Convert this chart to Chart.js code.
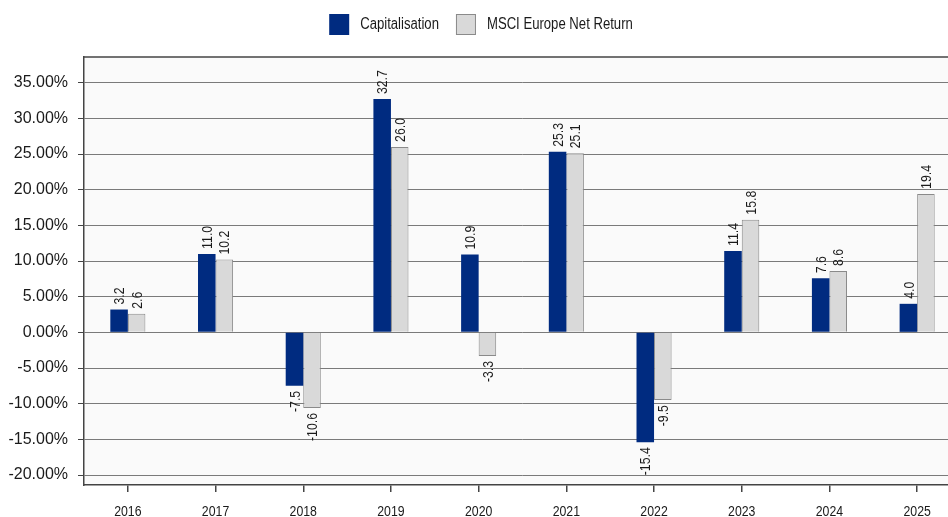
<!DOCTYPE html>
<html>
<head>
<meta charset="utf-8">
<script src="https://cdn.jsdelivr.net/npm/chart.js@4/dist/chart.umd.min.js"></script>
<style>
  html, body { margin: 0; padding: 0; background: #ffffff; overflow: hidden; }
  #wrap { width: 948px; height: 517px; overflow: hidden; position: relative; }
  canvas { display: block; }
</style>
</head>
<body>
<div id="wrap"><canvas id="c" width="961" height="517"></canvas></div>
<script>
const categories = ['2016', '2017', '2018', '2019', '2020', '2021', '2022', '2023', '2024', '2025'];
const seriesNames = ['Capitalisation', 'MSCI Europe Net Return'];
const capitalisation = [3.2, 11.0, -7.5, 32.7, 10.9, 25.3, -15.4, 11.4, 7.6, 4.0];
const msciEurope = [2.6, 10.2, -10.6, 26.0, -3.3, 25.1, -9.5, 15.8, 8.6, 19.4];
const yTickValues = [-20, -15, -10, -5, 0, 5, 10, 15, 20, 25, 30, 35];

const REG = "'Liberation Sans', Arial, sans-serif";
const SQUEEZE = 0.82;          // narrow (Arial Narrow–like) look
const BLUE = '#002b80';
const GREY = '#d9d9d9';
const GREY_BORDER = '#8a8a8a';
const TEXT = '#1a1a1a';

function narrowText(ctx, txt, x, y, align, baseline, rot) {
  ctx.save();
  ctx.translate(x, y);
  if (rot) ctx.rotate(rot);
  ctx.scale(SQUEEZE, 1);
  ctx.textAlign = align;
  ctx.textBaseline = baseline;
  ctx.fillText(txt, 0, 0);
  ctx.restore();
}

const bgPlugin = {
  id: 'plotBg',
  beforeDraw(chart) {
    const {ctx, chartArea: a} = chart;
    ctx.save();
    ctx.fillStyle = '#fafafa';
    ctx.fillRect(a.left, a.top, a.right - a.left, a.bottom - a.top);
    ctx.restore();
  },
  afterDraw(chart) {
    const {ctx, chartArea: a} = chart;
    ctx.save();
    ctx.strokeStyle = '#444';
    ctx.lineWidth = 1.5;
    ctx.beginPath();
    ctx.moveTo(a.left, a.top);
    ctx.lineTo(a.right, a.top);
    ctx.stroke();
    // category labels under the x axis (narrow face)
    const xs = chart.scales.x;
    ctx.fillStyle = TEXT;
    ctx.font = '15px ' + REG;
    xs.ticks.forEach((t, i) => {
      narrowText(ctx, xs.getLabelForValue(t.value), xs.getPixelForTick(i), a.bottom + 31, 'center', 'alphabetic', 0);
    });
    ctx.restore();
  }
};

const valueLabels = {
  id: 'valueLabels',
  afterDatasetsDraw(chart) {
    const {ctx} = chart;
    ctx.save();
    ctx.font = '15px ' + REG;
    ctx.fillStyle = TEXT;
    chart.data.datasets.forEach((ds, di) => {
      const meta = chart.getDatasetMeta(di);
      meta.data.forEach((el, i) => {
        const v = ds.data[i];
        const txt = v.toFixed(1);
        narrowText(ctx, txt, el.x + 1, v >= 0 ? el.y - 5 : el.y + 5,
          v >= 0 ? 'left' : 'right', 'middle', -Math.PI / 2);
      });
    });
    ctx.restore();
  }
};

const customLegend = {
  id: 'customLegend',
  afterDraw(chart) {
    const {ctx} = chart;
    ctx.save();
    ctx.font = '16px ' + REG;
    const box = 20, gapText = 11, gapItem = 17;
    const ds = chart.data.datasets;
    const widths = ds.map(d => ctx.measureText(d.label).width * SQUEEZE);
    let total = 0;
    widths.forEach((w, i) => { total += box + gapText + w + (i < widths.length - 1 ? gapItem : 0); });
    let x = 481 - total / 2;
    const top = 14, mid = 25;
    ds.forEach((d, i) => {
      ctx.fillStyle = d.backgroundColor;
      ctx.fillRect(x, top, box, 21);
      if (d.borderWidth) {
        ctx.strokeStyle = d.borderColor;
        ctx.lineWidth = 1;
        ctx.strokeRect(x + 0.5, top + 0.5, box - 1, 20);
      }
      ctx.fillStyle = TEXT;
      narrowText(ctx, d.label, x + box + gapText, mid, 'left', 'middle', 0);
      x += box + gapText + widths[i] + gapItem;
    });
    ctx.restore();
  }
};

new Chart(document.getElementById('c'), {
  type: 'bar',
  data: {
    labels: categories,
    datasets: [
      { label: seriesNames[0], data: capitalisation, backgroundColor: BLUE, borderColor: BLUE, borderWidth: 0,
        categoryPercentage: 0.4, barPercentage: 1.0 },
      { label: seriesNames[1], data: msciEurope, backgroundColor: GREY, borderColor: GREY_BORDER, borderWidth: 1,
        categoryPercentage: 0.4, barPercentage: 1.0 }
    ]
  },
  options: {
    responsive: false,
    animation: false,
    devicePixelRatio: 1,
    layout: { padding: { top: 57, right: 0, bottom: 0, left: 0 } },
    plugins: { legend: { display: false }, tooltip: { enabled: false } },
    scales: {
      x: {
        offset: true,
        grid: { display: true, drawOnChartArea: false, drawTicks: true, tickLength: 7, offset: false, color: '#444', tickColor: '#444', lineWidth: 1.5 },
        border: { display: true, color: '#444', width: 1.5 },
        ticks: { display: false, autoSkip: false, maxRotation: 0 },
        afterFit(scale) { scale.height = 32; }
      },
      y: {
        min: -21.4,
        max: 38.6,
        afterBuildTicks(scale) {
          scale.ticks = yTickValues.map(v => ({ value: v }));
        },
        grid: { color: '#7a7a7a', lineWidth: 1, tickColor: '#444', tickLength: 6, drawTicks: true },
        border: { display: true, color: '#444', width: 1.5 },
        ticks: { color: TEXT, font: { family: REG, size: 16 }, padding: 10,
          callback: v => Number(v).toFixed(2) + '%' },
        afterFit(scale) { scale.width = 84; }
      }
    }
  },
  plugins: [bgPlugin, valueLabels, customLegend]
});
</script>
</body>
</html>
